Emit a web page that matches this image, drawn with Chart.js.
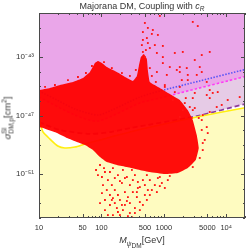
<!DOCTYPE html>
<html>
<head>
<meta charset="utf-8">
<script src="https://cdn.jsdelivr.net/npm/chart.js@4.4.0/dist/chart.umd.min.js"></script>
<style>
  html, body { margin: 0; padding: 0; background: #fff; overflow: hidden; }
  #wrap { position: relative; width: 249px; height: 249px; font-family: 'Liberation Sans', Arial, sans-serif; color: #333; }
  #wrap canvas { position: absolute; left: 0; top: 0; }
  .lbl { position: absolute; white-space: nowrap; font-size: 9px; line-height: 1; transform: translate(-50%, -50%); }
  #ytitle { font-size: 9.5px; transform: translate(-50%, -50%) rotate(-90deg); }
  .stk { display: inline-block; vertical-align: middle; font-size: 6.5px; line-height: 6.5px; text-align: left; }
  .stk span { display: block; }
  sub, sup { font-size: 6.5px; line-height: 0; }
</style>
</head>
<body>
<div id="wrap">
  <canvas id="chart" width="249" height="249"></canvas>
  <div class="lbl" id="title" style="left:142px; top:6px;">Majorana DM, Coupling with <i>c</i><sub><i>R</i></sub></div>
  <div class="lbl" id="ytitle" style="left:8px; top:118px;"><i>σ</i><span class="stk"><span>SI</span><span>DM,p</span></span>[cm<sup>2</sup>]</div>
  <div class="lbl" id="xtitle" style="left:142px; top:241px;"><i>M</i><sub><i>ψ</i><sub>DM</sub></sub>[GeV]</div>
</div>
<script>
// axis ranges and ticks
const xMin = 10, xMax = 20000;
const yMinExp = -54, yMaxExp = -40;
const xTickValues = [10, 50, 100, 500, 1000, 5000, 10000];
const xTickLabels = ['10', '50', '100', '500', '1000', '5000', '10⁴'];
const yTickExps = [-51, -47, -43];
const yTickLabels = ['10⁻⁵¹', '10⁻⁴⁷', '10⁻⁴³'];

// limit curves: mass in GeV, sigma as log10(cm^2)
const blueMass = [10, 19.4, 37.7, 88, 147, 413, 863, 3767, 20000];
const blueExp  = [-45.33, -45.94, -46.56, -46.97, -46.63, -45.74, -45.33, -44.64, -43.86];

const magentaMass = [10, 37.7, 88, 413, 863, 1803, 20000];
const magentaExp  = [-45.74, -46.97, -47.38, -46.15, -45.81, -45.46, -44.34];

const purpleMass = [10, 21.7, 65, 137, 286, 3373, 20000];
const purpleExp  = [-47.45, -47.99, -48.26, -48.13, -47.86, -47.04, -46.22];

const floorMass = [10, 10.8, 11.6, 15, 20, 26, 37.7, 54, 95, 286, 863, 3373, 20000];
const floorExp  = [-47.17, -47.72, -48.13, -48.61, -49.08, -49.22, -49.15, -48.95, -48.67, -48.13, -47.65, -47.1, -46.47];

// outline of the densely covered part of the scan
const denseMass = [10, 15, 21.7, 35, 50.6, 65.5, 78.7, 87.9, 102, 122, 177, 256, 319, 370, 398, 429, 479, 535, 555, 597,
  863, 1247, 1803, 2421, 2911, 3373, 3631, 3251, 2421, 1675, 1038, 597, 413, 256, 177, 122, 94.6, 73.1, 54.5, 40.6, 28.1, 19.4, 11.6, 10];
const denseExp = [-45.26, -45.12, -44.92, -44.71, -44.44, -44.03, -43.42, -43.28, -43.42, -43.69, -44.03, -44.44, -44.64, -44.30, -43.62, -43.01, -42.80, -43.14, -43.89, -44.71,
  -45.12, -45.53, -45.94, -46.63, -47.31, -48.33, -49.22, -50.04, -50.59, -50.93, -51.0, -50.86, -50.72, -50.52, -50.38, -50.18, -49.84, -49.36, -49.02, -48.81, -48.54, -48.20, -47.86, -47.79];

// sparse scan points outside the dense part
const scanMass = [
  863, 497, 555, 667, 643, 803, 462, 555, 718, 965, 597, 462, 774, 497, 965, 2911, 3499, 1500, 2014, 4055,
  5445, 3133, 965, 1247, 1614, 2333, 774, 1117, 3373, 1941, 4875, 462, 535, 445, 516,
  1803, 2421, 3767, 1038, 1803, 3133, 4875, 6081, 10568, 8473, 7047, 5445, 4207, 2805, 1803, 2911, 2168, 1393, 16443,
  2911, 5445, 2014, 2606, 7311, 5445, 2421, 4055, 1803,
  95, 114, 102, 127, 106, 147, 122, 164, 137, 184, 153, 213, 256, 286, 238, 319, 266, 370, 413, 462, 535, 184, 221, 153, 308,
  319, 384, 863, 1247, 4055, 4875, 4529, 4207, 3767, 2911, 5058,
  102, 198, 286, 137, 177, 221, 286, 198, 344, 413, 238, 153, 114, 308, 597, 718, 555, 803, 930, 497,
  110, 137, 164, 198, 238, 344, 384, 497, 643, 774, 1038, 1159, 114, 95, 164, 213, 256, 344, 266, 413, 462, 535, 184, 127, 147, 370, 597, 863, 88, 82,
  12.5, 18, 29.1, 42.1, 56.5, 70.5, 110, 147, 213, 286, 356, 597, 643, 745, 1038, 1500, 2249, 3133, 3631, 4055, 4207];
const scanExp = [
  -40.20, -40.68, -41.02, -41.16, -41.43, -41.50, -41.84, -42.05, -42.19, -42.25, -42.39, -42.66, -42.73, -43.01, -43.01, -40.61, -40.89, -42.73, -42.66, -42.87,
  -42.66, -43.21, -43.42, -43.69, -43.89, -43.76, -44.03, -44.23, -44.23, -44.58, -44.71, -41.30, -41.71, -42.19, -42.53,
  -43.69, -44.23, -43.69, -44.92, -45.05, -45.46, -45.60, -45.46, -45.94, -46.28, -46.42, -46.76, -46.97, -47.17, -47.10, -46.63, -46.15, -45.94, -45.74,
  -45.81, -45.81, -46.63, -46.42, -45.40, -45.26, -44.58, -44.03, -44.03,
  -50.38, -50.86, -51.20, -51.41, -51.75, -51.75, -52.09, -52.09, -52.43, -52.43, -52.64, -51.61, -51.20, -51.75, -52.23, -52.23, -52.57, -52.57, -51.89, -51.41, -51.07, -51.07, -50.72, -50.59, -50.72,
  -51.41, -51.95, -51.20, -51.13, -47.31, -47.79, -48.67, -49.36, -49.90, -50.52, -48.20,
  -52.30, -52.77, -52.98, -53.11, -53.32, -53.46, -53.66, -53.80, -53.32, -52.91, -53.11, -53.80, -53.46, -53.94, -51.41, -51.75, -52.09, -51.27, -51.61, -52.43,
  -50.59, -50.86, -51.27, -51.48, -51.27, -51.07, -51.54, -51.75, -52.09, -52.23, -51.95, -51.41, -52.77, -52.98, -52.98, -53.11, -52.84, -53.66, -53.87, -53.46, -53.11, -52.77, -53.59, -53.80, -52.77, -52.23, -52.43, -51.82, -51.07, -50.72,
  -45.05, -44.92, -44.58, -44.37, -44.10, -43.62, -43.35, -43.76, -44.10, -44.30, -43.89, -43.76, -44.30, -44.71, -45.05, -45.40, -45.81, -46.49, -47.17, -47.99, -48.88];

const pts = (ms, es) => ms.map((m, i) => ({ x: m, y: Math.pow(10, es[i]) }));

const frameTicks = {
  id: 'frameTicks',
  afterDatasetsDraw(chart) {
    const { ctx, chartArea: a, scales: { x, y } } = chart;
    ctx.save();
    ctx.strokeStyle = '#4a4a4a';
    ctx.lineWidth = 1;
    ctx.beginPath();
    for (let d = 10; d <= xMax; d *= 10) {
      for (let k = 1; k < 10; k++) {
        const v = k * d;
        if (v < xMin || v > xMax) continue;
        const px = Math.round(x.getPixelForValue(v)) + 0.5;
        const len = xTickValues.includes(v) ? 4 : 2;
        ctx.moveTo(px, a.bottom); ctx.lineTo(px, a.bottom - len);
        ctx.moveTo(px, a.top); ctx.lineTo(px, a.top + len);
      }
    }
    for (let e = yMinExp; e <= yMaxExp; e++) {
      const py = Math.round(y.getPixelForValue(Math.pow(10, e))) + 0.5;
      const len = yTickExps.includes(e) ? 4 : 2;
      ctx.moveTo(a.left, py); ctx.lineTo(a.left + len, py);
      ctx.moveTo(a.right, py); ctx.lineTo(a.right - len, py);
    }
    ctx.stroke();
    ctx.strokeRect(a.left + 0.5, a.top + 0.5, a.right - a.left - 1, a.bottom - a.top - 1);
    ctx.restore();
  }
};

const lineDs = (ms, es, color, dash, width, order) => ({
  data: pts(ms, es), showLine: true, fill: false, borderColor: color, borderDash: dash,
  borderWidth: width, pointRadius: 0, tension: 0.25, order: order
});

new Chart(document.getElementById('chart'), {
  type: 'scatter',
  data: {
    datasets: [
      { data: pts(purpleMass, purpleExp), showLine: true, fill: 'end', backgroundColor: '#E6CBE6', borderWidth: 0, pointRadius: 0, tension: 0.25, order: 20 },
      { data: pts(magentaMass, magentaExp), showLine: true, fill: 'end', backgroundColor: '#EAA6E9', borderWidth: 0, pointRadius: 0, tension: 0.25, order: 19 },
      { data: pts(floorMass, floorExp), showLine: true, fill: 'start', backgroundColor: '#FEFBC0', borderWidth: 0, pointRadius: 0, tension: 0.25, order: 18 },
      lineDs(blueMass, blueExp, '#5A55F5', [1.5, 1.5], 1.6, 17),
      lineDs(magentaMass, magentaExp, '#FF3CF5', [2.5, 2], 1.6, 16),
      lineDs(purpleMass, purpleExp, '#8C3C9C', [5, 3], 1.8, 15),
      lineDs(floorMass, floorExp, '#FFEE10', [], 1.6, 14),
      { data: pts(denseMass, denseExp), showLine: true, fill: 'shape', backgroundColor: 'rgba(255,0,0,0.95)', borderWidth: 0, pointRadius: 0, tension: 0.1, order: 13 },
      { data: pts(scanMass, scanExp), showLine: false, pointStyle: 'rect', pointRadius: 1.3, backgroundColor: '#FF1414', borderWidth: 0, order: 11 }
    ]
  },
  options: {
    responsive: false,
    animation: false,
    devicePixelRatio: 1,
    layout: { padding: { top: 13, right: 4, left: 0, bottom: 0 } },
    plugins: { legend: { display: false }, tooltip: { enabled: false }, title: { display: false }, filler: { drawTime: 'beforeDatasetDraw' } },
    scales: {
      x: {
        type: 'logarithmic', min: xMin, max: xMax,
        grid: { display: false, drawTicks: false }, border: { display: false },
        afterBuildTicks: s => { s.ticks = xTickValues.map(v => ({ value: v })); },
        afterFit: s => { s.height = 31; },
        ticks: { autoSkip: false, maxRotation: 0, padding: 5, color: '#333',
          font: { family: "'Liberation Sans', Arial, sans-serif", size: 7.5 },
          callback: (v, i) => xTickLabels[i] }
      },
      y: {
        type: 'logarithmic', min: Math.pow(10, yMinExp), max: Math.pow(10, yMaxExp),
        grid: { display: false, drawTicks: false }, border: { display: false },
        afterBuildTicks: s => { s.ticks = yTickExps.map(e => ({ value: Math.pow(10, e) })); },
        afterFit: s => { s.width = 39; },
        ticks: { autoSkip: false, padding: 5, color: '#333',
          font: { family: "'Liberation Sans', Arial, sans-serif", size: 8 },
          callback: (v, i) => yTickLabels[i] }
      }
    }
  },
  plugins: [frameTicks]
});
</script>
</body>
</html>
